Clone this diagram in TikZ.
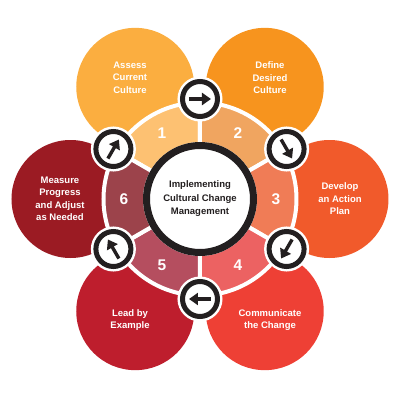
\documentclass[tikz,border=0pt]{standalone}
\usepackage{fontspec}
\setmainfont{Liberation Sans}
\usetikzlibrary{arrows.meta}
\definecolor{cdark}{HTML}{231F20}
\definecolor{pet1}{HTML}{FBAE40}
\definecolor{pet2}{HTML}{F7941E}
\definecolor{pet3}{HTML}{F15A2B}
\definecolor{pet4}{HTML}{EE4035}
\definecolor{pet5}{HTML}{BE1E2D}
\definecolor{pet6}{HTML}{9B1B23}
\definecolor{seg1}{HTML}{FDC172}
\definecolor{seg2}{HTML}{F0A560}
\definecolor{seg3}{HTML}{F07C56}
\definecolor{seg4}{HTML}{EC6262}
\definecolor{seg5}{HTML}{B54E5F}
\definecolor{seg6}{HTML}{9C434B}
\tikzset{
  every picture/.style={font=\bfseries},
  petal/.style={circle, fill=#1, minimum size=118pt, inner sep=0pt},
  petaltext/.style={text=white, font=\bfseries\fontsize{9.5}{12.5}\selectfont, align=center},
  numtext/.style={text=white, font=\bfseries\fontsize{15.5}{15.5}\selectfont},
  hub/.style={circle, draw=cdark, line width=7pt, fill=white, minimum size=107pt, inner sep=0pt,
              align=center, text=cdark, font=\bfseries\fontsize{9.5}{13.5}\selectfont},
  badge/.style={circle, draw=cdark, line width=5pt, fill=white, minimum size=35pt, inner sep=0pt,
                preaction={draw=white, line width=10pt}},
  turn/.style={-{Triangle[length=9pt, width=12pt]}, draw=cdark, line width=3.4pt},
}

\begin{document}
\begin{tikzpicture}
  \useasboundingbox (-200pt,-201pt) rectangle (200pt,199pt);
  % outer petals
  \foreach \k/\txt [evaluate=\k as \ang using 180-60*\k] in {1/{Assess\\Current\\Culture}, 2/{Define\\Desired\\Culture},
      3/{Develop\\an Action\\Plan}, 4/{Communicate\\the Change}, 5/{Lead by\\Example}, 6/{Measure\\Progress\\and Adjust\\as Needed}} {
    \node[petal=pet\k] (p\k) at (\ang:129.5pt) {};
    \node[petaltext] (t\k) at (\ang:140pt) {\txt};
  }
  % ring segments
  \foreach \k [evaluate=\k as \ang using 180-60*\k] in {1,...,6} {
    \filldraw[fill=seg\k, draw=white, line width=4pt] (\ang-30:55pt) arc[start angle=\ang-30, end angle=\ang+30, radius=55pt]
      -- (\ang+30:96.5pt) arc[start angle=\ang+30, end angle=\ang-30, radius=96.5pt] -- cycle;
    \node[numtext] (n\k) at (\ang:76pt) {\k};
  }
  \node[hub] (hub) at (0,0) {Implementing\\Cultural Change\\Management};
  % step arrows
  \foreach \k [evaluate=\k as \ang using 150-60*\k, evaluate=\k as \dir using 60-60*\k] in {1,...,6} {
    \node[badge] (b\k) at (\ang:100pt) {};
    \draw[turn] ([shift={(\dir:-11pt)}]b\k.center) -- ([shift={(\dir:11pt)}]b\k.center);
  }
\end{tikzpicture}
\end{document}
